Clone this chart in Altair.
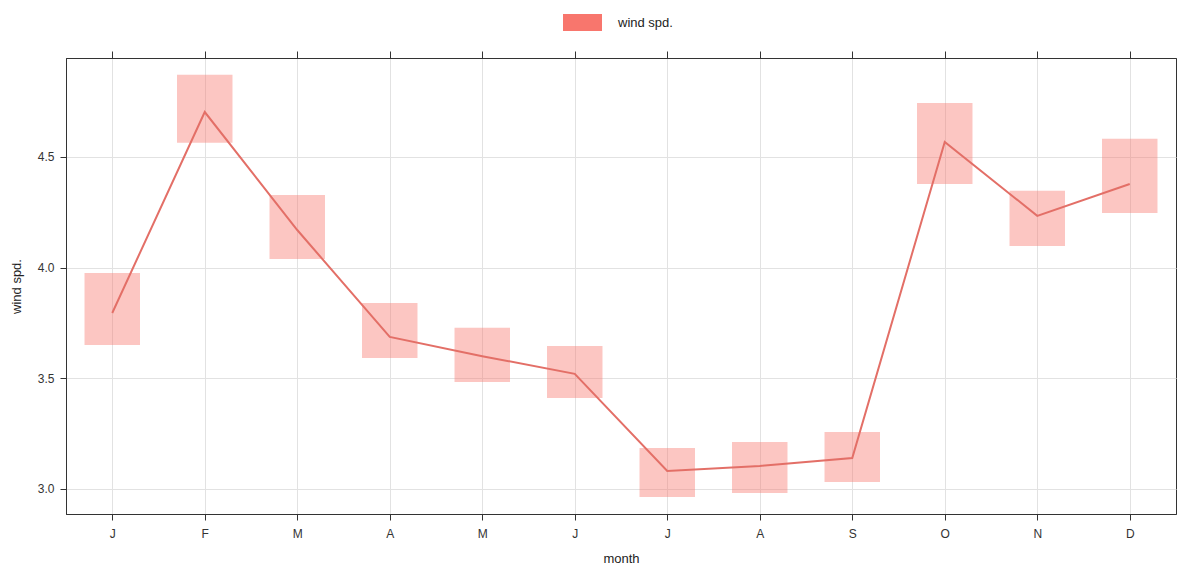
import altair as alt
import pandas as pd

months = list(range(1, 13))
month_labels = ["J", "F", "M", "A", "M", "J", "J", "A", "S", "O", "N", "D"]
wind_mean = [3.795, 4.703, 4.170, 3.687, 3.600, 3.520, 3.081, 3.104, 3.140, 4.568, 4.234, 4.378]
wind_lower = [3.651, 4.564, 4.039, 3.592, 3.483, 3.411, 2.964, 2.982, 3.032, 4.378, 4.098, 4.247]
wind_upper = [3.976, 4.871, 4.328, 3.840, 3.728, 3.646, 3.185, 3.212, 3.258, 4.744, 4.347, 4.582]

df = pd.DataFrame({
    "month": months,
    "label": month_labels,
    "mean": wind_mean,
    "lower": wind_lower,
    "upper": wind_upper,
    "series": ["wind spd."] * 12,
})

label_expr = "['J','F','M','A','M','J','J','A','S','O','N','D'][datum.value - 1]"

xscale = alt.Scale(domain=[0.5, 12.5], nice=False, zero=False)
yscale = alt.Scale(domain=[2.887, 4.947], nice=False, zero=False)

base = alt.Chart(df)

boxes = base.transform_calculate(
    x1="datum.month - 0.3", x2="datum.month + 0.3"
).mark_rect(opacity=0.42).encode(
    x=alt.X("x1:Q", scale=xscale, title="month",
            axis=alt.Axis(orient="bottom", values=months, labelExpr=label_expr,
                          grid=True, gridColor="#E2E2E2", tickSize=6,
                          labelPadding=8, titlePadding=13)),
    x2="x2:Q",
    y=alt.Y("lower:Q", scale=yscale, title="wind spd.",
            axis=alt.Axis(values=[3.0, 3.5, 4.0, 4.5], format=".1f", grid=True,
                          gridColor="#E2E2E2", tickSize=6, labelPadding=6,
                          titlePadding=14)),
    y2="upper:Q",
    color=alt.Color("series:N", scale=alt.Scale(range=["#F8766D"]),
                    legend=alt.Legend(title=None, orient="none", legendX=497, legendY=-55,
                                      symbolType="M -1 -0.436 L 1 -0.436 L 1 0.436 L -1 0.436 Z",
                                      symbolSize=1521, symbolOpacity=1, symbolStrokeWidth=0,
                                      labelFontSize=13, labelOffset=16, labelColor="#222",
                                      labelFont="Liberation Sans")),
)

line = base.mark_line(color="#E36F67", strokeWidth=2).encode(
    x=alt.X("month:Q", scale=xscale, title=None,
            axis=alt.Axis(orient="top", values=months, labels=False, grid=False,
                          tickSize=7)),
    y=alt.Y("mean:Q", scale=yscale),
)

chart = alt.layer(boxes, line).resolve_axis(x="independent").properties(
    width=1110, height=456,
    autosize=alt.AutoSizeParams(type="none"),
    padding={"left": 66, "top": 58, "right": 1, "bottom": 52},
).configure_view(stroke="#333333", strokeWidth=1).configure_axis(
    domainColor="#333333", tickColor="#333333", labelColor="#333333",
    labelFont="Liberation Sans", titleFont="Liberation Sans",
    labelFontSize=12, titleFontSize=13, titleFontWeight="normal", titleColor="#222",
)

chart.save("out.html", embed_options={"renderer": "svg", "actions": False})
